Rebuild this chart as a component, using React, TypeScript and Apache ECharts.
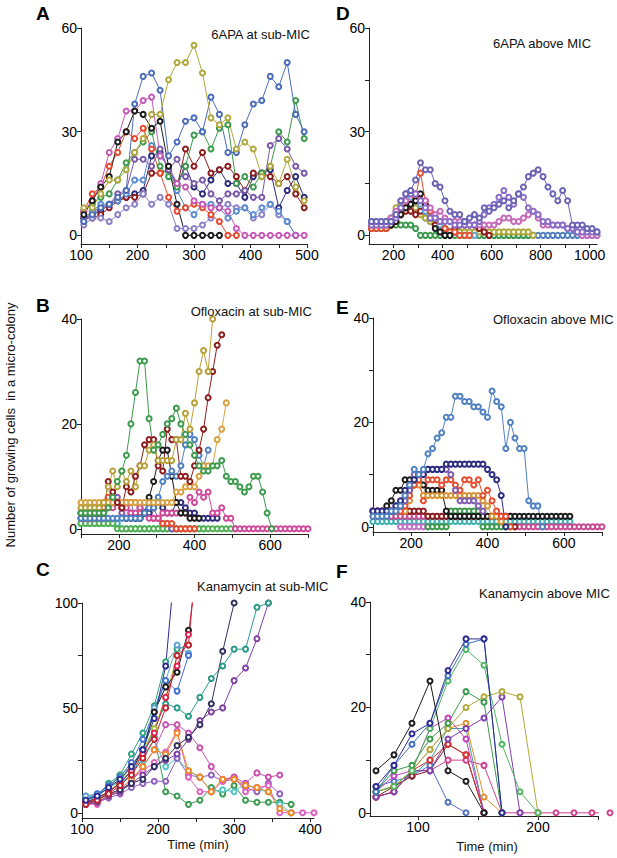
import React, { useEffect, useRef } from "react";
import * as echarts from "echarts";

// ---------- time grids ----------
const T_A = [105,120,135,150,165,180,195,210,225,240,255,270,285,300,315,330,345,360,375,390,405,420,435,450,465,480,495];
const T_D = [110,130,150,170,190,210,230,250,270,290,310,330,350,370,390,410,430,450,470,490,510,530,550,570,590,610,630,650,670,690,710,730,750,770,790,810,830,850,870,890,910,930,950,970,990,1010,1030];
const T_B = [100,112,124,136,148,160,172,184,196,208,220,232,244,256,268,280,292,304,316,328,340,352,364,376,388,400,412,424,436,448,460,472,484,496,508,520,532,544,556,568,580,592,604,616,628,640,652,664,676,688,700];
const T_E = T_B;
const T_C = [105,120,135,150,165,180,195,210,225,240,255,270,285,300,315,330,345,360,375,390,405];
const T_F = [65,80,95,110,125,140,155,170,185,200,215,230,245,260];

const N = null;

// ---------- A: 6APA at sub-MIC ----------
const A_olive = [8,8,12,16,16,19,24,28,35,35,45,50,50,55,47,34,32,34,25,27,25,17,20,15,22,14,10];
const A_blue = [4,6,8,9,11,13,38,46,47,42,23,27,33,34,30,40,35,24,24,32,38,39,46,43,50,35,30];
const A_green = [7,9,11,12,16,21,24,27,30,20,17,14,20,29,30,25,31,32,15,17,14,18,20,30,27,39,28];
const A_red = [7,12,14,20,24,30,28,31,25,18,11,7,8,9,8,6,4,0,0,N,N,N,N,N,N,N,N];
const A_black = [6,10,14,17,27,30,36,35,31,33,20,9,0,0,0,0,0,N,N,N,N,N,N,N,N,N,N];
const A_pink = [7,10,15,24,28,36,36,39,40,23,20,15,14,10,9,8,8,7,2,0,0,0,0,0,0,0,0];
const A_purple = [5,7,8,9,12,13,22,22,20,25,19,22,17,15,16,12,10,12,12,13,11,11,26,28,25,20,18];
const A_lavender = [3,5,5,4,6,8,9,12,9,11,9,2,2,2,3,5,8,9,8,8,5,6,9,6,4,0,N];
const A_darkred = [5,5,6,8,10,11,11,12,18,18,19,14,25,20,24,18,19,20,17,13,18,18,17,15,17,12,8];
const A_navy = [5,6,7,9,10,11,12,13,23,24,19,15,20,14,12,16,19,15,15,11,17,18,19,8,13,17,11];
const A_lightblue = [4,7,9,9,10,12,16,16,26,23,20,13,8,6,9,9,8,5,7,8,6,8,9,7,4,0,N];

// ---------- D: 6APA above MIC ----------
const D_violet = [4,4,4,4,4,6,10,12,13,16,21,19,19,15,14,10,7,6,6,4,5,6,5,8,7,8,9,10,8,10,12,14,17,18,19,17,14,12,10,13,10,3,3,3,2,2,1];
const D_purple = [3,3,3,3,4,5,8,12,12,12,10,8,5,5,4,4,4,3,3,3,3,3,4,6,8,9,11,13,11,9,12,11,8,7,6,4,4,3,3,3,2,2,1,1,1,1,1];
const D_magenta = [3,3,3,3,5,7,10,10,12,12,10,10,8,6,7,5,4,4,4,4,3,3,3,3,3,3,4,5,5,4,4,5,6,7,5,3,3,3,3,3,2,2,1,0,0,0,0];
const D_red = [2,2,2,2,3,5,6,8,9,11,18,10,7,5,4,2,1,1,0,0,0];
const D_darkred = [2,2,2,2,3,4,6,7,7,6,7,7,6,3,2,2,1,2,3,3,3,3,2,1,0];
const D_green = [2,2,2,2,3,3,3,3,3,2,0,0,0,0,0,0,0,0,0,0,0,0,0,0,0,0,0,0,0,0,0,0,0];
const D_olive = [3,3,3,4,5,8,9,9,9,8,6,5,4,3,2,2,1,1,1,1,1,1,1,1,1,1,1,1,1,1,1,1,1,0];
const D_blue = [4,4,4,4,5,7,9,10,9,8,7,5,4,3,2,2,1,1,0,0,0,0,0,0,0,0,0,0,0,0,0,0,0,0,0,0,0,0,0,0,0,0,0,0,0,0,0];
const D_black = [N,N,N,N,3,4,6,8,9,10,12,9,5,2,1,0,0];
const D_lightblue = [4,4,4,4,5,6,8,10,11,10,9,7,6,5,3,2,1,1,0,0,0,0];

// ---------- B: Ofloxacin at sub-MIC ----------
const B_green = [3,3,3,3,3,3,4,6,9,11,14,20,26,32,32,21,15,16,18,20,21,23,20,18,16,14,12,11,11,12,12,13,10,9,9,8,7,8,10,10,7,3,0];
const B_olive = [4,4,4,4,4,5,8,11,8,11,9,11,8,12,12,15,16,13,13,13,13,17,17,22,19,24,30,34,30,40,43];
const B_darkred = [3,3,3,3,3,3,9,7,5,4,8,7,10,12,16,17,17,12,11,19,17,17,10,10,9,12,15,19,25,30,35,37];
const B_gold = [5,5,5,5,5,5,5,5,5,5,5,5,5,5,5,5,5,5,5,5,5,7,7,8,8,8,10,12,12,12,17,19,24];
const B_blue = [2,2,2,2,2,2,2,2,2,2,2,2,2,2,3,4,4,6,9,10,11,10,12,16,18,17,14,12,15];
const B_black = [N,N,N,N,N,N,N,N,N,N,2,2,2,2,3,6,9,13,15,15,10,5,3,3,2,2,2];
const B_pink = [2,2,2,2,2,2,4,4,5,4,4,3,3,4,3,2,2,2,3,3,3,3,3,3,6,5,7,6,7,3,3,4,2,2,0,0,0,0,0,0,0,0,0,0,0,0,0,0,0,0,0];
const B_green2 = [1,1,1,1,1,1,1,1,0,0,0,0,0,0,0,0,0,0,0,0,0,0,0,0,0,0,0,0,0,0,0,0,0,0,0];
const B_teal = [1,1,1,1,1,1,1,1,1,0,0,0,0,0,0,0,0,0,0,0,0,0,0,0,0,0,0,0];
const B_red = [3,3,3,3,3,4,6,6,5,4,5,5,5,3,3,3,2,2,1,1,1,0,0,0,0,0];
const B_purple = [2,2,2,2,3,3,5,6,6,3,5,5,2,4,3,3,4,2,1,1,0,0];
const B_navy = [N,N,N,N,N,N,N,N,N,N,2,3,2,2,3,3,4,5,4,3,3,5,5,4,3,3,2,2,2,2,2];

// ---------- E: Ofloxacin above MIC ----------
const E_blue = [2,2,2,2,3,3,4,6,8,11,10,11,14,15,17,18,21,21,25,25,24,24,23,23,22,21,26,24,23,15,20,17,15,15,5,4,4,0];
const E_navy = [3,3,3,3,3,4,5,7,8,9,10,10,11,11,11,11,12,12,12,12,12,12,12,12,12,11,10,9,6,0];
const E_black = [3,3,3,4,5,7,7,9,9,9,10,8,7,7,7,7,3,2,2,2,2,2,2,2,2,2,2,2,2,2,2,2,2,2,2,2,2,2,2,2,2,2,2,2];
const E_red = [3,3,3,3,3,3,3,4,6,8,9,5,9,9,9,8,9,9,8,7,9,9,8,9,6,7,5,3,2,2,0];
const E_orange = [3,3,3,3,3,3,3,3,5,8,8,6,6,6,6,6,6,6,6,6,6,6,6,6,5,4,2,2,1,0];
const E_purple = [3,3,3,3,3,4,4,5,7,10,10,10,11,11,11,11,11,10,7,5,5,5,5,4,3];
const E_green = [N,N,N,N,N,N,N,N,N,N,N,N,0,0,0,0,0,3,3,3,3,3,3,3,0,0,0,0,0,0,0];
const E_magenta = [2,2,2,2,2,2,2,2,2,2,2,2,2,2,2,2,2,2,2,2,2,2,2,2,2,2,2,2,2,2,2,0,0,0,0,0,0,0,0,0,0,0,0,0,0,0,0,0,0,0,0];
const E_teal = [1,1,1,1,1,1,1,1,1,1,1,1,1,1,1,1,1,1,1,1,1,1,1,1,1,1,1,1,1,1,1,1,1,1,1,1,1,1,1,1,1,1,1,1];
const E_pinkviolet = [N,N,N,N,N,N,0,0,0,0,0,0,0];
const E_darkred = [3,3,3,3,3,3,3,3,3,3,3,3,2,2,2,2,2,2,2,2,2,2,2,2,2,2,2,2,2,2,2,0];

// ---------- C: Kanamycin at sub-MIC ----------
const C_navy = [6,8,12,16,22,30,45,70,130];
const C_red = [4,6,9,13,18,26,35,50,75,80,140];
const C_crimson = [5,7,10,14,20,28,38,55,70,85,130];
const C_black = [5,7,10,14,20,30,48,60,67,87];
const C_lightblue = [8,9,12,16,22,30,50,63,80,76];
const C_teal = [7,8,14,18,28,38,51,72,78,80];
const C_orange = [4,5,8,11,16,22,30,28,38,20,17,10,16,16,13,12,10,2,0];
const C_yellowgreen = [5,7,10,15,22,30,40,55,75];
const C_darknavy = [5,6,9,11,14,16,22,26,32,36,42,52,77,100];
const C_olive = [4,6,10,14,18,28,40,52,50,46,55,64,70,78,78,98,100];
const C_purple = [4,5,8,10,14,18,22,25,28,35,44,48,50,63,69,83,100];
const C_magenta = [5,5,8,10,15,22,30,42,42,38,31,22,16,17,14,19,17,18];
const C_pink = [4,4,8,11,16,20,24,29,39,17,10,10,15,17,10,12,13,0,0,0,0];
const C_green = [8,8,12,18,22,30,36,10,8,4,6,12,9,13,6,5,5,5,4];
const C_cyan = [5,8,12,15,20,25,35,22,26,20,17,10,11,10,14,11,10,4,0];
const C_blue = [6,9,13,17,24,35,48,63,58,75];
const C_violet = [4,5,7,9,12,14,15,15,26,18,17,18,15,16,12,10,14,9];

// ---------- F: Kanamycin above MIC ----------
const F_black = [8,11,17,25,8,6,0];
const F_navy = [5,9,15,17,27,33,33,0];
const F_blue = [4,9,13,17,26,32,33,0];
const F_lightgreen = [4,5,8,16,25,31,28,13,4,0];
const F_green = [4,8,9,14,17,23,21,0];
const F_olive = [4,5,8,12,16,20,22,23,22,0];
const F_purple = [3,4,8,8,14,16,18,22,0];
const F_pink = [3,4,8,8,10,10,9,0,0,0,0,0,0,0];
const F_red = [3,4,8,10,13,11,0];
const F_darkred = [3,5,7,8,13,11,0];
const F_orange = [4,5,8,12,16,17,3,0];
const F_steel = [5,6,7,9,2,0];
const F_magenta = [4,7,8,16,18,14,0];
const F_teal = [4,5,7,10,16,16,0];

// ---------- axis ticks / labels ----------
const A_xTicks = [100,150,200,250,300,350,400,450,500];
const A_xLabels = [100,200,300,400,500];
const AD_yLabels = [0,30,60];
const D_xTicks = [200,300,400,500,600,700,800,900,1000];
const D_xLabels = [200,400,600,800,1000];
const D_yTicks = [0,15,30,45,60];
const BE_xTicks = [100,200,300,400,500,600,700];
const BE_xLabels = [200,400,600];
const BE_yLabels = [0,20,40];
const E_yTicks = [0,10,20,30,40];
const C_xTicks = [100,150,200,250,300,350,400];
const C_xLabels = [100,200,300,400];
const C_yTicks = [0,25,50,75,100];
const C_yLabels = [0,50,100];
const F_xTicks = [100,150,200,250];
const F_xLabels = [100,200];
const F_yTicks = [0,10,20,30,40];
const F_yLabels = [0,20,40];

const TITLES = ["6APA at sub-MIC","6APA above MIC","Ofloxacin at sub-MIC","Ofloxacin above MIC","Kanamycin at sub-MIC","Kanamycin above MIC"];
const LETTERS = ["A","D","B","E","C","F"];
const Y_NAME = "Number of growing cells  in a micro-colony";
const X_NAME = "Time (min)";

type Ser = [string, (number | null)[]];

const PANEL_A: Ser[] = [
  ["#2c2c7c", A_navy], ["#8c1c1c", A_darkred], ["#7a58a8", A_purple], ["#8a80c8", A_lavender],
  ["#5a8ad0", A_lightblue], ["#3c9a4c", A_green], ["#e8482c", A_red], ["#c858b8", A_pink],
  ["#1a1a1a", A_black], ["#4a6cb8", A_blue], ["#b0a83a", A_olive],
];
const PANEL_D: Ser[] = [
  ["#4f80c0", D_blue], ["#3c9a4c", D_green], ["#b0a83a", D_olive], ["#8c1c1c", D_darkred],
  ["#60a8d8", D_lightblue], ["#e8502c", D_red], ["#1a1a1a", D_black], ["#c868b8", D_magenta],
  ["#8a6cc8", D_purple], ["#6a62b4", D_violet],
];
const PANEL_B: Ser[] = [
  ["#3cb0b8", B_teal], ["#50b050", B_green2], ["#7c58b0", B_purple], ["#e84a2c", B_red],
  ["#2c2c7c", B_navy], ["#d0489a", B_pink], ["#1a1a1a", B_black], ["#4d80c0", B_blue],
  ["#d8a040", B_gold], ["#8c1c1c", B_darkred], ["#b8a038", B_olive], ["#3c9a4c", B_green],
];
const PANEL_E: Ser[] = [
  ["#40b0b0", E_teal], ["#c84890", E_magenta], ["#c070c8", E_pinkviolet], ["#8c1c1c", E_darkred],
  ["#3c9a4c", E_green], ["#1a1a1a", E_black], ["#d89030", E_orange], ["#e84a2c", E_red],
  ["#7c5cb0", E_purple], ["#2c2c80", E_navy], ["#4f80c0", E_blue],
];
const PANEL_C: Ser[] = [
  ["#3a9a50", C_green], ["#50c8c8", C_cyan], ["#9060c0", C_violet], ["#e060c0", C_pink],
  ["#c850b0", C_magenta], ["#f08a20", C_orange], ["#8040a0", C_purple], ["#2a9a88", C_olive],
  ["#303060", C_darknavy], ["#a8c830", C_yellowgreen], ["#30a080", C_teal], ["#60a0d0", C_lightblue],
  ["#4070d0", C_blue], ["#1a1a1a", C_black], ["#e02050", C_crimson], ["#c82030", C_red], ["#2a2a90", C_navy],
];
const PANEL_F: Ser[] = [
  ["#d04090", F_pink], ["#40a0a0", F_teal], ["#5070c0", F_steel], ["#8c1c1c", F_darkred],
  ["#d83030", F_red], ["#e09030", F_orange], ["#c040c0", F_magenta], ["#8040b0", F_purple],
  ["#b0a838", F_olive], ["#3c9a4c", F_green], ["#50b860", F_lightgreen], ["#4070c0", F_blue],
  ["#2c2c90", F_navy], ["#1a1a1a", F_black],
];

const FONT = "Arial, 'Liberation Sans', Helvetica, sans-serif";
const AXIS_COLOR = "#222";

function makeSeries(times: number[], list: Ser[], gi: number, clip: boolean) {
  return list.map(([color, values]) => ({
    type: "line",
    xAxisIndex: gi,
    yAxisIndex: gi,
    clip,
    symbol: "emptyCircle",
    symbolSize: 5,
    showSymbol: true,
    silent: true,
    data: values
      .map((v, i) => (v == null ? null : [times[i], v]))
      .filter((p) => p !== null),
    lineStyle: { color, width: 1 },
    itemStyle: { color, borderColor: color, borderWidth: 1 },
  }));
}

const plain = (v: number) => String(v);

function xAxis(gi: number, min: number, max: number, ticks: number[], labels: number[]) {
  return {
    type: "value",
    gridIndex: gi,
    min,
    max,
    axisLine: { show: true, onZero: false, lineStyle: { color: AXIS_COLOR, width: 1 } },
    axisTick: { show: true, customValues: ticks, length: 4, lineStyle: { color: AXIS_COLOR } },
    axisLabel: { customValues: labels, formatter: plain, color: "#000", fontSize: 14, fontFamily: FONT, margin: 4 },
    splitLine: { show: false },
  };
}

function yAxis(gi: number, min: number, max: number, ticks: number[], labels: number[]) {
  return {
    type: "value",
    gridIndex: gi,
    min,
    max,
    axisLine: { show: true, onZero: false, lineStyle: { color: AXIS_COLOR, width: 1 } },
    axisTick: { show: true, customValues: ticks, length: 4, lineStyle: { color: AXIS_COLOR } },
    axisLabel: { customValues: labels, formatter: plain, color: "#000", fontSize: 14, fontFamily: FONT, margin: 4 },
    splitLine: { show: false },
  };
}

export default function App() {
  const ref = useRef<HTMLDivElement>(null);
  useEffect(() => {
    if (!ref.current) return;
    const chart = echarts.init(ref.current, undefined, { renderer: "svg" });
    const grids = [
      { left: 81, top: 28, width: 226, height: 216 },   // A
      { left: 369, top: 28, width: 228, height: 216 },  // D
      { left: 81, top: 319, width: 227, height: 215 },  // B
      { left: 373, top: 318, width: 229, height: 214 }, // E
      { left: 82, top: 603, width: 232, height: 215 },  // C
      { left: 370, top: 602, width: 228, height: 214 }, // F
    ];
    const option = {
      animation: false,
      backgroundColor: "#fff",
      grid: grids,
      xAxis: [
        xAxis(0, 100, 500, A_xTicks, A_xLabels),
        xAxis(1, 100, 1030, D_xTicks, D_xLabels),
        xAxis(2, 100, 700, BE_xTicks, BE_xLabels),
        xAxis(3, 100, 700, BE_xTicks, BE_xLabels),
        xAxis(4, 100, 405, C_xTicks, C_xLabels),
        xAxis(5, 60, 250, F_xTicks, F_xLabels),
      ],
      yAxis: [
        yAxis(0, -2.5, 60, AD_yLabels, AD_yLabels),
        yAxis(1, -2.5, 60, D_yTicks, AD_yLabels),
        yAxis(2, -1, 40, BE_yLabels, BE_yLabels),
        yAxis(3, -1, 40, E_yTicks, BE_yLabels),
        yAxis(4, -2.5, 100, C_yTicks, C_yLabels),
        yAxis(5, -0.6, 40, F_yTicks, F_yLabels),
      ],
      series: [
        ...makeSeries(T_A, PANEL_A, 0, true),
        ...makeSeries(T_D, PANEL_D, 1, true),
        ...makeSeries(T_B, PANEL_B, 2, true),
        ...makeSeries(T_E, PANEL_E, 3, true),
        ...makeSeries(T_C, PANEL_C, 4, true),
        ...makeSeries(T_F, PANEL_F, 5, false),
      ],
      graphic: [
        // panel letters
        { type: "text", left: 36, top: 4, style: { text: LETTERS[0], font: `bold 19px ${FONT}`, fill: "#000" } },
        { type: "text", left: 336, top: 4, style: { text: LETTERS[1], font: `bold 19px ${FONT}`, fill: "#000" } },
        { type: "text", left: 36, top: 296, style: { text: LETTERS[2], font: `bold 19px ${FONT}`, fill: "#000" } },
        { type: "text", left: 336, top: 298, style: { text: LETTERS[3], font: `bold 19px ${FONT}`, fill: "#000" } },
        { type: "text", left: 36, top: 560, style: { text: LETTERS[4], font: `bold 19px ${FONT}`, fill: "#000" } },
        { type: "text", left: 336, top: 562, style: { text: LETTERS[5], font: `bold 19px ${FONT}`, fill: "#000" } },
        // titles
        { type: "text", x: 310, y: 34, style: { text: TITLES[0], font: `13px ${FONT}`, fill: "#111", align: "right", verticalAlign: "middle" } },
        { type: "text", x: 493, y: 43, style: { text: TITLES[1], font: `13px ${FONT}`, fill: "#111", align: "left", verticalAlign: "middle" } },
        { type: "text", x: 312, y: 311, style: { text: TITLES[2], font: `13px ${FONT}`, fill: "#111", align: "right", verticalAlign: "middle" } },
        { type: "text", x: 493, y: 319, style: { text: TITLES[3], font: `13px ${FONT}`, fill: "#111", align: "left", verticalAlign: "middle" } },
        { type: "text", x: 197, y: 586, style: { text: TITLES[4], font: `13px ${FONT}`, fill: "#111", align: "left", verticalAlign: "middle" } },
        { type: "text", x: 479, y: 593, style: { text: TITLES[5], font: `13px ${FONT}`, fill: "#111", align: "left", verticalAlign: "middle" } },
        // axis names
        { type: "text", x: 10, y: 425, rotation: Math.PI / 2, style: { text: Y_NAME, font: `13px ${FONT}`, fill: "#111", align: "center", verticalAlign: "middle" } },
        { type: "text", x: 198, y: 844, style: { text: X_NAME, font: `13px ${FONT}`, fill: "#111", align: "center", verticalAlign: "middle" } },
        { type: "text", x: 487, y: 846, style: { text: X_NAME, font: `13px ${FONT}`, fill: "#111", align: "center", verticalAlign: "middle" } },
      ],
    };
    chart.setOption(option as any);
    return () => chart.dispose();
  }, []);
  return (
    <div
      ref={ref}
      style={{ position: "fixed", left: 0, top: 0, width: 617, height: 858, background: "#fff" }}
    />
  );
}
